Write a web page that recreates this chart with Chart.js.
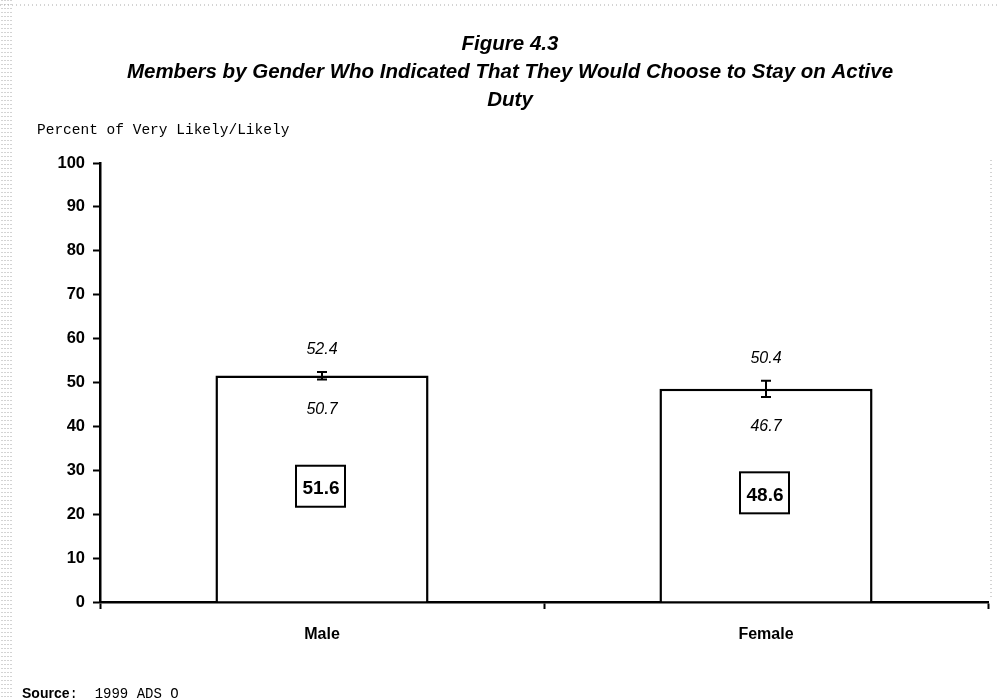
<!DOCTYPE html>
<html>
<head>
<meta charset="utf-8">
<script src="https://cdn.jsdelivr.net/npm/chart.js@4"></script>
<style>
  html, body { margin: 0; padding: 0; background: #fff; }
  #wrap { width: 997px; height: 698px; }
</style>
</head>
<body>
<div id="wrap"><canvas id="grafik" width="997" height="698"></canvas></div>
<script>
// data
const kategori = ["Male", "Female"];
const nilai = [51.6, 48.6];
const batasBawah = [50.7, 46.7];
const batasAtas = [52.4, 50.4];
const tickY = [0, 10, 20, 30, 40, 50, 60, 70, 80, 90, 100];

const judul = [
    "Figure 4.3",
    "Members by Gender Who Indicated That They Would Choose to Stay on Active",
    "Duty"
];
const labelSumbuY = "Percent of Very Likely/Likely";

const sans = "'Liberation Sans', Arial, sans-serif";
const mono = "'Liberation Mono', 'Courier New', monospace";

// titles, axis caption, source line and scan edges
const teksLuar = {
    id: "teksLuar",
    beforeDraw(chart) {
        const c = chart.ctx;
        c.save();
        c.fillStyle = "#fff";
        c.fillRect(0, 0, chart.width, chart.height);

        // faint scanner edges
        c.strokeStyle = "#a8a8a8";
        c.lineWidth = 1;
        c.setLineDash([1, 3]);
        for (let x = 2; x < 14; x += 3) {
            c.beginPath(); c.moveTo(x, 0); c.lineTo(x, chart.height); c.stroke();
        }
        c.beginPath(); c.moveTo(0, 5); c.lineTo(chart.width, 5); c.stroke();
        c.beginPath(); c.moveTo(991, 160); c.lineTo(991, 600); c.stroke();
        c.setLineDash([]);

        c.fillStyle = "#000";
        c.textAlign = "center";
        c.textBaseline = "middle";
        c.font = "italic bold 20.5px " + sans;
        c.fillText(judul[0], 510, 44);
        c.fillText(judul[1], 510, 72);
        c.fillText(judul[2], 510, 100);

        c.textAlign = "left";
        c.font = "14.5px " + mono;
        c.fillText(labelSumbuY, 37, 130);

        c.textBaseline = "top";
        c.font = "bold 14px " + sans;
        c.fillText("Source", 22, 687);
        const w = c.measureText("Source").width;
        c.font = "14px " + mono;
        c.fillText(":  1999 ADS O", 22 + w, 687);
        c.restore();
    }
};

// error bars, CI labels and boxed values
const anotasi = {
    id: "anotasi",
    afterDatasetsDraw(chart) {
        const c = chart.ctx;
        const y = chart.scales.y;
        const meta = chart.getDatasetMeta(0);
        c.save();
        meta.data.forEach((bar, i) => {
            const x = bar.x;
            const yAtas = y.getPixelForValue(batasAtas[i]);
            const yBawah = y.getPixelForValue(batasBawah[i]);

            c.strokeStyle = "#000";
            c.lineWidth = 2;
            c.beginPath();
            c.moveTo(x, yAtas); c.lineTo(x, yBawah);
            c.moveTo(x - 5, yAtas); c.lineTo(x + 5, yAtas);
            c.moveTo(x - 5, yBawah); c.lineTo(x + 5, yBawah);
            c.stroke();

            c.fillStyle = "#000";
            c.textAlign = "center";
            c.textBaseline = "middle";
            c.font = "italic 16px " + sans;
            c.fillText(batasAtas[i].toFixed(1), x, yAtas - 22);
            c.fillText(batasBawah[i].toFixed(1), x, yBawah + 30);

            const yTengah = y.getPixelForValue(nilai[i] / 2) - 3;
            c.lineWidth = 2;
            c.strokeRect(x - 26, yTengah - 20, 49, 41);
            c.font = "bold 19px " + sans;
            c.fillText(nilai[i].toFixed(1), x - 1, yTengah + 3);
        });
        c.restore();
    }
};

new Chart(document.getElementById("grafik"), {
    type: "bar",
    data: {
        labels: kategori,
        datasets: [{
            label: "Percent",
            data: nilai,
            backgroundColor: "#fff",
            borderColor: "#000",
            borderWidth: 2.5,
            borderSkipped: "bottom",
            barPercentage: 0.48,
            categoryPercentage: 1
        }]
    },
    options: {
        responsive: false,
        animation: false,
        events: [],
        layout: { padding: { top: 163, right: 9, bottom: 0, left: 0 } },
        plugins: {
            legend: { display: false },
            title: { display: false },
            tooltip: { enabled: false }
        },
        scales: {
            x: {
                offset: true,
                grid: {
                    offset: true,
                    drawOnChartArea: false,
                    drawTicks: true,
                    tickLength: 7,
                    tickWidth: 2,
                    color: "#000"
                },
                border: { display: true, color: "#000", width: 2.5 },
                ticks: {
                    color: "#000",
                    padding: 16,
                    font: { family: sans, size: 16, weight: "bold" }
                },
                afterFit(s) { s.height = 96; }
            },
            y: {
                min: 0,
                max: 100,
                afterBuildTicks(s) { s.ticks = tickY.map(v => ({ value: v })); },
                grid: {
                    drawOnChartArea: false,
                    drawTicks: true,
                    tickLength: 7,
                    tickWidth: 2,
                    color: "#000"
                },
                border: { display: true, color: "#000", width: 2.5 },
                ticks: {
                    color: "#000",
                    padding: 8,
                    font: { family: sans, size: 16.5, weight: "bold" }
                },
                afterFit(s) { s.width = 100; }
            }
        }
    },
    plugins: [teksLuar, anotasi]
});
</script>
</body>
</html>
